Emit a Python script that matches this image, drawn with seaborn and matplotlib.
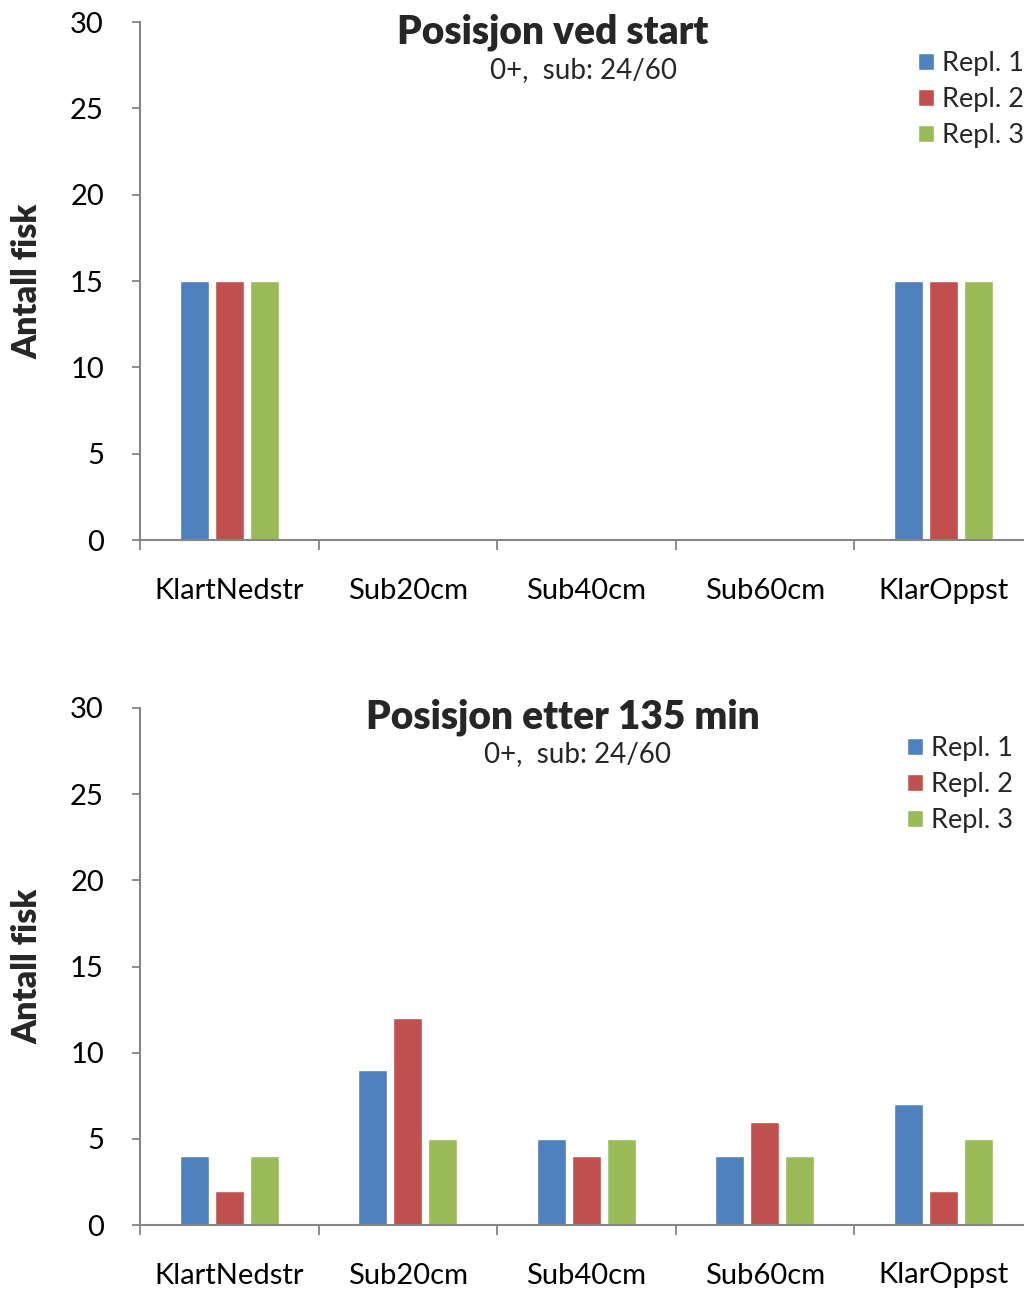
import matplotlib
matplotlib.use("Agg")
import matplotlib.pyplot as plt
import seaborn as sns
import pandas as pd
from matplotlib.ticker import FixedLocator

categories = ["KlartNedstr", "Sub20cm", "Sub40cm", "Sub60cm", "KlarOppst"]
series = ["Repl. 1", "Repl. 2", "Repl. 3"]
start_r1 = [15, 0, 0, 0, 15]
start_r2 = [15, 0, 0, 0, 15]
start_r3 = [15, 0, 0, 0, 15]
end_r1 = [4, 9, 5, 4, 7]
end_r2 = [2, 12, 4, 6, 2]
end_r3 = [4, 5, 5, 4, 5]
titles = ["Posisjon ved start", "Posisjon etter 135 min"]
subtitle = "0+,  sub: 24/60"
ylabel = "Antall fisk"
yticks = [0, 5, 10, 15, 20, 25, 30]
colors = ["#4F81BD", "#C0504D", "#9BBB59"]

sns.set_theme(style="white")
plt.rcParams["font.family"] = ["Lato", "DejaVu Sans"]

def make_df(r1, r2, r3):
    rows = []
    for s, vals in zip(series, [r1, r2, r3]):
        for c, v in zip(categories, vals):
            rows.append({"cat": c, "repl": s, "val": v})
    return pd.DataFrame(rows)

W, H = 1024, 1290
fig = plt.figure(figsize=(W / 100, H / 100), dpi=100)

panels = [
    (make_df(start_r1, start_r2, start_r3), 22, 540, titles[0], 553, 32, 584, 70, 918, 51),
    (make_df(end_r1, end_r2, end_r3), 708, 1225, titles[1], 563, 717, 578, 754, 907, 736),
]
axis_color = "#868686"
for df, ytop, ybot, title, tx, ty, sx, sy, lx, ly in panels:
    left, right = 140, 1032.5
    ax = fig.add_axes([left / W, 1 - ybot / H, (right - left) / W, (ybot - ytop) / H])
    sns.barplot(data=df, x="cat", y="val", hue="repl", palette=colors,
                width=0.588, gap=0.17, ax=ax, saturation=1, legend=True)
    ax.set_xlim(-0.5, 4.5)
    ax.set_ylim(0, 30)
    ax.set_yticks(yticks)
    ax.set_xlabel("")
    ax.set_ylabel(ylabel, fontsize=24.5, fontweight="heavy")
    ax.yaxis.set_label_coords(-0.108, 0.5)
    for s in ["top", "right"]:
        ax.spines[s].set_visible(False)
    for s in ["left", "bottom"]:
        ax.spines[s].set_color(axis_color)
        ax.spines[s].set_linewidth(1.5)
    ax.tick_params(axis="y", which="major", direction="out", length=6, width=1.3,
                   color=axis_color, labelsize=21, pad=20, left=True)
    ax.tick_params(axis="x", which="major", length=0, labelsize=21, pad=27)
    ax.xaxis.set_minor_locator(FixedLocator([-0.5, 0.5, 1.5, 2.5, 3.5, 4.5]))
    ax.tick_params(axis="x", which="minor", direction="out", length=7, width=1.3,
                   color=axis_color, bottom=True)
    for lab in ax.get_xticklabels() + ax.get_yticklabels():
        lab.set_color("black")
    fig.text(tx / W, 1 - ty / H, title, fontsize=28, fontweight="heavy",
             ha="center", va="center")
    fig.text(sx / W, 1 - sy / H, subtitle, fontsize=20, ha="center", va="center")
    handles, labels = ax.get_legend_handles_labels()
    ax.legend(handles, labels, loc="upper left",
              bbox_to_anchor=(lx / W, 1 - ly / H), bbox_transform=fig.transFigure,
              frameon=False, fontsize=19.5, handlelength=0.58, handleheight=0.58,
              handletextpad=0.3, labelspacing=0.4, borderpad=0, borderaxespad=0)

fig.savefig("out.png", dpi=100)
